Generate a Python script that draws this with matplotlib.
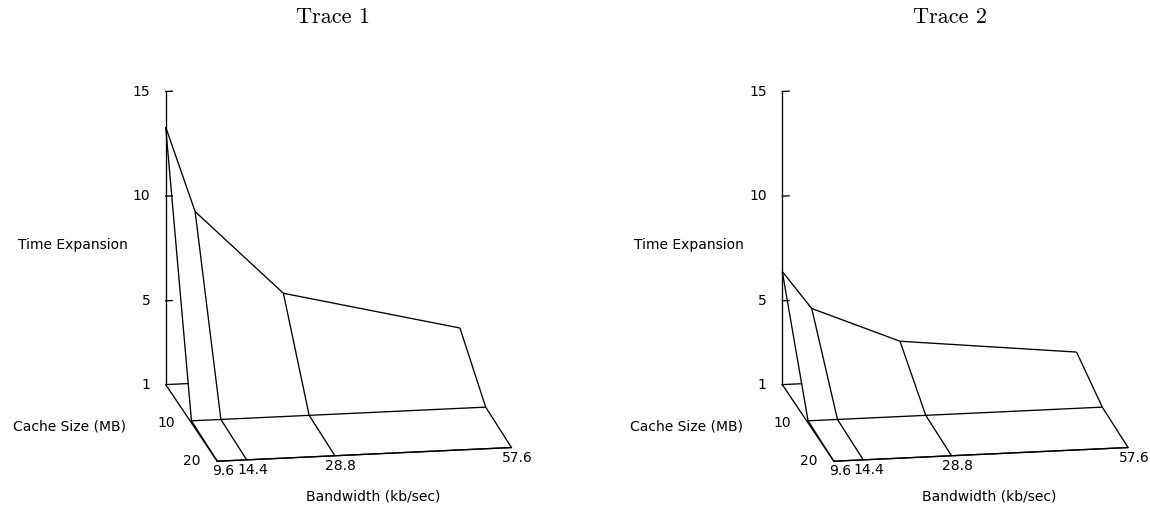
import numpy as np
import matplotlib
matplotlib.use("Agg")
import matplotlib.pyplot as plt

# ---------------- data ----------------
bandwidth = [9.6, 14.4, 28.8, 57.6]            # kb/sec  (x)
cache_size = [0, 10, 20]                       # MB      (y)
trace1_c0 = [13.3, 9.2, 5.1, 3.05]             # time expansion, cache 0
trace1_c10 = [1.1, 1.1, 1.1, 1.1]
trace1_c20 = [1.0, 1.0, 1.0, 1.0]
trace2_c0 = [6.4, 4.57, 2.81, 1.9]
trace2_c10 = [1.1, 1.1, 1.1, 1.1]
trace2_c20 = [1.0, 1.0, 1.0, 1.0]
titles = ["Trace 1", "Trace 2"]
x_tick_labels = ["9.6", "14.4", "28.8", "57.6"]
y_ticks = [10, 20]
y_tick_labels = ["10", "20"]
z_ticks = [1, 5, 10, 15]
z_tick_labels = ["1", "5", "10", "15"]
x_label = "Bandwidth (kb/sec)"
y_label = "Cache Size (MB)"
z_label = "Time Expansion"

# ---------------- style / layout ----------------
W, H = 1150, 508
PANEL_DX = 616.6
ELEV, AZIM = 15.25, -100.03
BOX_ASPECT = (299, 296, 304)
BOX_ZOOM = 1.8
LW = 0.95
SANS = "DejaVu Sans"
FS = 10
TITLE_FONT = "cmr10"
TITLE_FS = 16
# target pixel positions (from top-left) of two box corners, panel 1
T_TOP = (165.7, 91.5)      # (xmin, ymin, zmax)
T_CORNER = (511.7, 447.3)  # (xmax, ymax, zmin)

fig = plt.figure(figsize=(W / 100, H / 100), dpi=100)


def make_ax(rect):
    ax = fig.add_axes(rect, projection="3d", proj_type="ortho")
    ax.set_box_aspect(BOX_ASPECT, zoom=BOX_ZOOM)
    ax.view_init(elev=ELEV, azim=AZIM)
    ax.set_xlim(bandwidth[0], bandwidth[-1])
    ax.set_ylim(cache_size[-1], cache_size[0])
    ax.set_zlim(z_ticks[0], z_ticks[-1])
    ax.set_axis_off()
    ax.set_facecolor("none")
    ax.patch.set_visible(False)
    return ax


def project(ax, xs, ys, zs):
    M = ax.get_proj()
    pts = np.vstack([np.asarray(xs, float), np.asarray(ys, float),
                     np.asarray(zs, float), np.ones(len(xs))])
    v = M @ pts
    return np.column_stack([v[0] / v[3], v[1] / v[3]])


def to_display(ax, xs, ys, zs):
    return ax.transData.transform(project(ax, xs, ys, zs))


# ---- calibrate the axes box so the projected cube lands where wanted ----
S0 = 300.0
L0 = np.array([100.0, 50.0])
tmp = make_ax([L0[0] / W, L0[1] / H, S0 / W, S0 / H])
fig.canvas.draw()
p = to_display(tmp, [bandwidth[0], bandwidth[-1]], [cache_size[0], cache_size[-1]],
               [z_ticks[-1], z_ticks[0]])
tmp.remove()
ta = np.array([T_TOP[0], H - T_TOP[1]])
tb = np.array([T_CORNER[0], H - T_CORNER[1]])
scale = np.linalg.norm(tb - ta) / np.linalg.norm(p[1] - p[0])
S = S0 * scale
L = ta - (p[0] - L0) * scale


def draw_panel(ax, c0, c10, c20):
    X, Y = np.meshgrid(bandwidth, cache_size)
    Z = np.array([c0, c10, c20])
    wf = ax.plot_wireframe(X, Y, Z, color="black", linewidth=LW)
    wf.set_clip_on(False)
    x0, x1 = bandwidth[0], bandwidth[-1]
    y0, y1 = cache_size[0], cache_size[-1]
    zb, zt = z_ticks[0], z_ticks[-1]
    kw = dict(color="black", linewidth=LW, clip_on=False)
    # z axis with ticks
    ax.plot([x0, x0], [y0, y0], [zb, zt], **kw)
    for z in z_ticks[1:]:
        ax.plot([x0, x0 + 1.1], [y0, y0], [z, z], **kw)
    # base border: left and front edges
    ax.plot([x0, x0], [y0, y1], [zb, zb], **kw)
    ax.plot([x0, x1], [y1, y1], [zb, zb], **kw)
    # back edge: visible only until it passes behind the surface
    q = project(ax, [x0, x1, x0, x0], [y0, y0, y0, cache_size[1]],
                [zb, zb, Z[0, 0], Z[1, 0]])
    A, B, C, D = q
    Mx = np.column_stack([B - A, -(D - C)])
    t, _ = np.linalg.solve(Mx, C - A)
    t = float(np.clip(t, 0, 1))
    ax.plot([x0, x0 + t * (x1 - x0)], [y0, y0], [zb, zb], **kw)


def fig_frac(px, py):
    return fig.transFigure.inverted().transform((px, py))


def add_labels(ax, title, dx):
    x0 = bandwidth[0]
    y0, y1 = cache_size[0], cache_size[-1]
    zb = z_ticks[0]
    # z tick labels
    pts = to_display(ax, [x0] * len(z_ticks), [y0] * len(z_ticks), z_ticks)
    for (px, py), lab in zip(pts, z_tick_labels):
        fx, fy = fig_frac(px - 15.5, py)
        fig.text(fx, fy, lab, ha="right", va="center", family=SANS, fontsize=FS)
    # y tick labels
    pts = to_display(ax, [x0] * len(y_ticks), y_ticks, [zb] * len(y_ticks))
    for (px, py), lab in zip(pts, y_tick_labels):
        fx, fy = fig_frac(px - 16.5, py)
        fig.text(fx, fy, lab, ha="right", va="center", family=SANS, fontsize=FS)
    # x tick labels
    pts = to_display(ax, bandwidth, [y1] * len(bandwidth), [zb] * len(bandwidth))
    for (px, py), lab in zip(pts, x_tick_labels):
        fx, fy = fig_frac(px + 6, py - 10)
        fig.text(fx, fy, lab, ha="center", va="center", family=SANS, fontsize=FS)

    # axis labels and title (figure pixel positions)
    def fx(px):
        return (px + dx) / W

    def fy(py):
        return 1 - py / H

    fig.text(fx(72.5), fy(245.5), z_label, ha="center", va="center", family=SANS, fontsize=FS)
    fig.text(fx(69.5), fy(426.5), y_label, ha="center", va="center", family=SANS, fontsize=FS)
    fig.text(fx(373.0), fy(497.0), x_label, ha="center", va="center", family=SANS, fontsize=FS)
    fig.text(fx(333.0), fy(23.3), title, ha="center", va="baseline",
             family=TITLE_FONT, fontsize=TITLE_FS)


series = [(trace1_c0, trace1_c10, trace1_c20), (trace2_c0, trace2_c10, trace2_c20)]
axes = []
for i, (c0, c10, c20) in enumerate(series):
    dx = i * PANEL_DX
    ax = make_ax([(L[0] + dx) / W, L[1] / H, S / W, S / H])
    draw_panel(ax, c0, c10, c20)
    axes.append(ax)

fig.canvas.draw()
for i, ax in enumerate(axes):
    add_labels(ax, titles[i], i * PANEL_DX)

fig.savefig("out.png", dpi=100, facecolor="white")
